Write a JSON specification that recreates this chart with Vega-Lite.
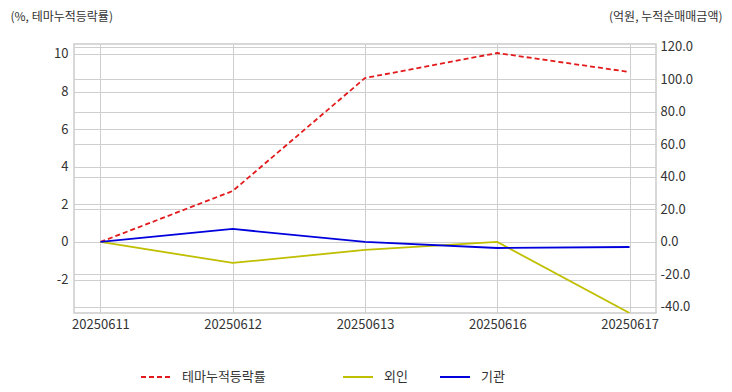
{
  "$schema": "https://vega.github.io/schema/vega-lite/v6.json",
  "autosize": {"type": "none"},
  "width": 582,
  "height": 269,
  "padding": {"left": 74, "top": 44, "right": 76, "bottom": 79},
  "config": {
    "font": "Noto Sans CJK KR",
    "view": {"stroke": "#cccccc", "strokeWidth": 1.5},
    "axis": {"labelFont": "Noto Sans CJK KR", "labelFontSize": 13, "labelColor": "#333333", "titleFont": "Noto Sans CJK KR", "titleFontSize": 12, "titleFontWeight": "normal", "titleColor": "#333333", "gridColor": "#cfcfcf", "gridWidth": 1, "domain": false, "ticks": false},
    "legend": {"labelFont": "Noto Sans CJK KR", "labelFontSize": 13, "labelColor": "#333333"}
  },
  "datasets": {
    "theme": [
      {"date": "20250611", "series": "테마누적등락률", "value": 0},
      {"date": "20250612", "series": "테마누적등락률", "value": 2.71},
      {"date": "20250613", "series": "테마누적등락률", "value": 8.72},
      {"date": "20250616", "series": "테마누적등락률", "value": 10.05},
      {"date": "20250617", "series": "테마누적등락률", "value": 9.04}
    ],
    "flow": [
      {"date": "20250611", "series": "외인", "value": 0},
      {"date": "20250612", "series": "외인", "value": -12.9},
      {"date": "20250613", "series": "외인", "value": -4.9},
      {"date": "20250616", "series": "외인", "value": 0},
      {"date": "20250617", "series": "외인", "value": -43.7},
      {"date": "20250611", "series": "기관", "value": 0},
      {"date": "20250612", "series": "기관", "value": 8.0},
      {"date": "20250613", "series": "기관", "value": 0},
      {"date": "20250616", "series": "기관", "value": -3.7},
      {"date": "20250617", "series": "기관", "value": -3.1}
    ]
  },
  "encoding": {
    "x": {"field": "date", "type": "ordinal", "sort": null, "scale": {"type": "point", "padding": 0.2},
      "axis": {"title": null, "labelAngle": 0, "grid": true, "labelPadding": 5}}
  },
  "layer": [
    {
      "data": {"name": "theme"},
      "mark": {"type": "line", "strokeDash": [5, 3], "strokeWidth": 1.8, "clip": true},
      "encoding": {
        "y": {"field": "value", "type": "quantitative",
          "scale": {"domain": [-3.78, 10.53], "nice": false, "zero": false},
          "axis": {"orient": "left", "values": [-2, 0, 2, 4, 6, 8, 10], "grid": true, "labelPadding": 6,
            "labelExpr": "replace(datum.label, '−', '-')",
            "title": "(%, 테마누적등락률)", "titleAngle": 0, "titleAlign": "left", "titleBaseline": "middle", "titleX": -64, "titleY": -28}},
        "color": {"field": "series", "type": "nominal",
          "scale": {"domain": ["테마누적등락률"], "range": ["#e31a1c"]},
          "legend": {"title": null, "orient": "none", "legendX": 66, "legendY": 317, "direction": "horizontal", "symbolType": "stroke", "symbolSize": 900, "symbolStrokeWidth": 2, "symbolDash": [5, 3], "labelOffset": 10}}
      }
    },
    {
      "data": {"name": "flow"},
      "mark": {"type": "line", "strokeWidth": 1.8, "clip": true},
      "encoding": {
        "y": {"field": "value", "type": "quantitative",
          "scale": {"domain": [-43.7, 121.8], "nice": false, "zero": false},
          "axis": {"orient": "right", "values": [-40, -20, 0, 20, 40, 60, 80, 100, 120], "format": ".1f", "grid": true, "labelPadding": 4,
            "labelExpr": "replace(datum.label, '−', '-')",
            "title": "(억원, 누적순매매금액)", "titleAngle": 0, "titleAlign": "right", "titleBaseline": "middle", "titleX": 66, "titleY": -28}},
        "color": {"field": "series", "type": "nominal", "sort": null,
          "scale": {"domain": ["외인", "기관"], "range": ["#bfbf00", "#0000dd"]},
          "legend": {"title": null, "orient": "none", "legendX": 268, "legendY": 317, "direction": "horizontal", "symbolType": "stroke", "symbolSize": 900, "symbolStrokeWidth": 2, "labelOffset": 10, "columnPadding": 28}}
      }
    }
  ],
  "resolve": {"scale": {"y": "independent", "color": "independent"}}
}
